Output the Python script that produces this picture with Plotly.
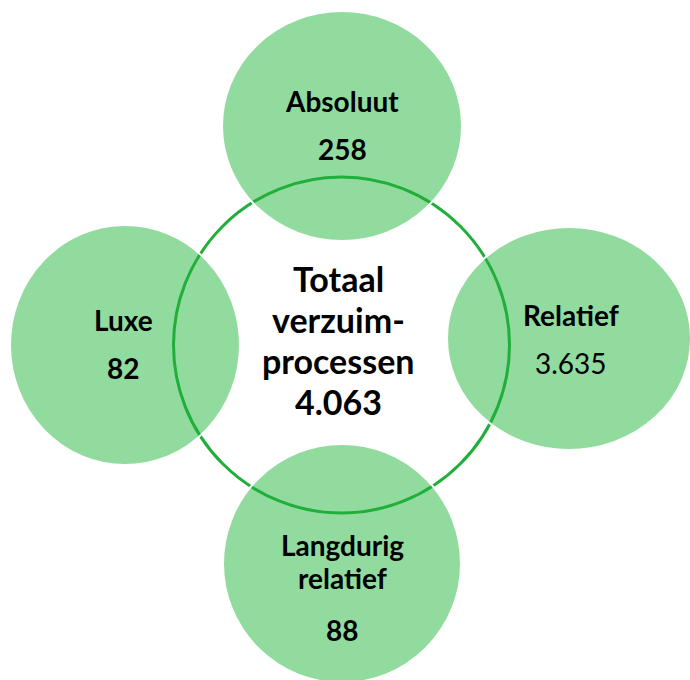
import plotly.graph_objects as go

# ---- data ----
center_title = ["Totaal", "verzuim-", "processen"]
center_total = 4063
categories = ["Absoluut", "Relatief", "Langdurig|relatief", "Luxe"]
values = [258, 3635, 88, 82]
value_bold = [True, False, True, True]

# ---- layout geometry (pixel-like data coordinates) ----
W, H = 690, 680
ring = dict(cx=341.5, cy=345, r=168)
bubbles = [
    dict(x0=222, x1=462, y0=11, y1=241),    # top
    dict(x0=447, x1=691, y0=227, y1=450),   # right
    dict(x0=223, x1=461, y0=444, y1=683),   # bottom
    dict(x0=10, x1=240, y0=225, y1=465),    # left
]
# label line centers (x, y of each line), value center
label_pos = [
    dict(x=342, ys=[101], vy=149),
    dict(x=571, ys=[315], vy=363),
    dict(x=342, ys=[545, 578], vy=630),
    dict(x=123, ys=[320], vy=368),
]

FILL = "#92DB9E"
RING = "#1FAF3A"
FONT = "Lato"


def fmt(v):
    return f"{v:,}".replace(",", ".")


fig = go.Figure()
fig.add_trace(go.Scatter(x=[0, W], y=[0, H], mode="markers",
                         marker=dict(opacity=0), hoverinfo="skip", showlegend=False))

shapes = []
for b in bubbles:
    shapes.append(dict(type="circle", xref="x", yref="y", layer="below",
                       x0=b["x0"], x1=b["x1"], y0=b["y0"], y1=b["y1"],
                       fillcolor=FILL, line=dict(width=0)))
shapes.append(dict(type="circle", xref="x", yref="y", layer="below",
                   x0=ring["cx"] - ring["r"], x1=ring["cx"] + ring["r"],
                   y0=ring["cy"] - ring["r"], y1=ring["cy"] + ring["r"],
                   fillcolor="rgba(0,0,0,0)", line=dict(color=RING, width=3)))
for b in bubbles:
    shapes.append(dict(type="circle", xref="x", yref="y", layer="below",
                       x0=b["x0"], x1=b["x1"], y0=b["y0"], y1=b["y1"],
                       fillcolor="rgba(0,0,0,0)", line=dict(color="white", width=2)))

annotations = []
for cat, val, bold, pos in zip(categories, values, value_bold, label_pos):
    for line, y in zip(cat.split("|"), pos["ys"]):
        annotations.append(dict(x=pos["x"], y=y, xref="x", yref="y", showarrow=False,
                                text=f"<b>{line}</b>",
                                font=dict(family=FONT, size=28, color="black"),
                                xanchor="center", yanchor="middle"))
    vt = fmt(val)
    annotations.append(dict(x=pos["x"], y=pos["vy"], xref="x", yref="y", showarrow=False,
                            text=f"<b>{vt}</b>" if bold else vt,
                            font=dict(family=FONT, size=28, color="black"),
                            xanchor="center", yanchor="middle"))

center_lines = center_title + [fmt(center_total)]
for i, line in enumerate(center_lines):
    annotations.append(dict(x=338, y=278 + i * 41.3, xref="x", yref="y", showarrow=False,
                            text=f"<b>{line}</b>",
                            font=dict(family=FONT, size=34, color="black"),
                            xanchor="center", yanchor="middle"))

fig.update_layout(
    width=W, height=H, autosize=False,
    margin=dict(l=0, r=0, t=0, b=0),
    paper_bgcolor="white", plot_bgcolor="white",
    xaxis=dict(range=[0, W], visible=False, fixedrange=True),
    yaxis=dict(range=[H, 0], visible=False, fixedrange=True),
    shapes=shapes, annotations=annotations, showlegend=False,
)
fig.write_html("out.html", config={"displayModeBar": False},
               post_script="document.body.style.margin='0';document.body.style.overflow='hidden';")
